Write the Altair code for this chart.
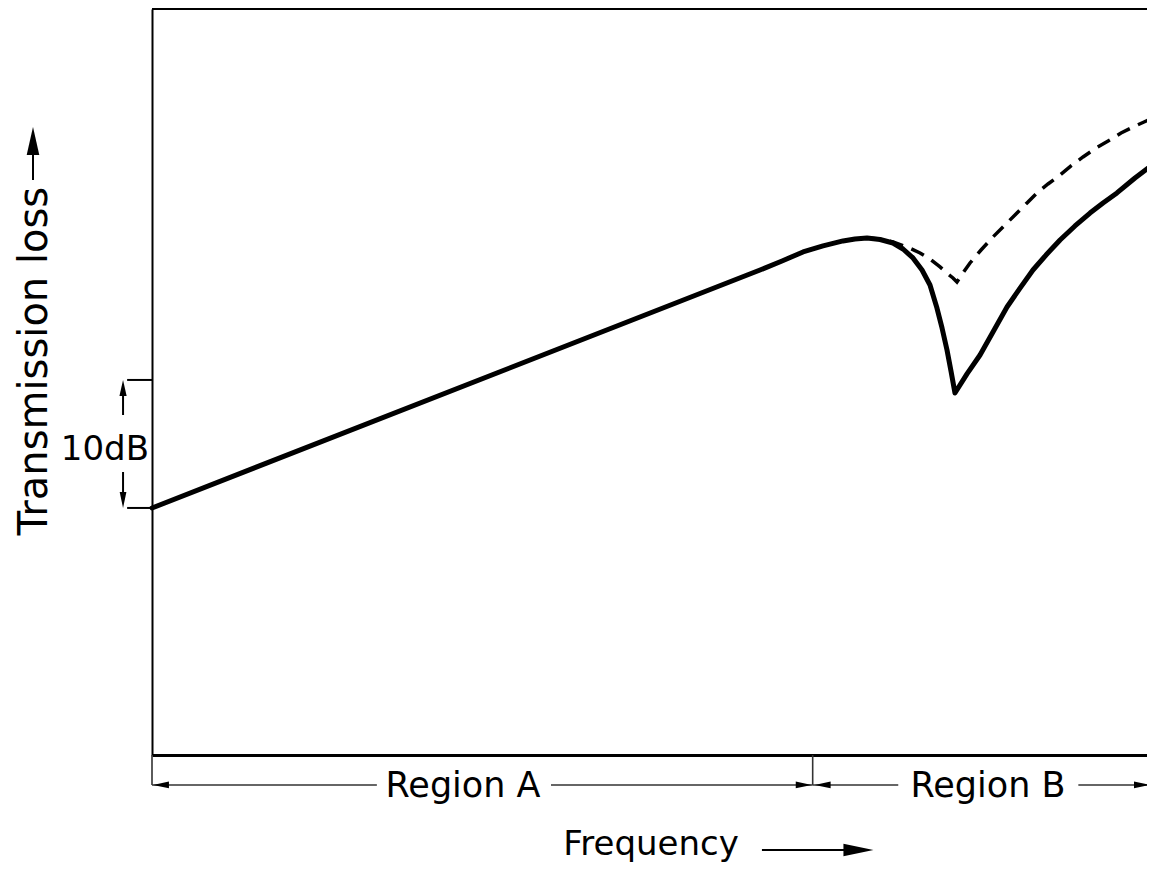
import altair as alt
import pandas as pd

# ---- data (frequency: arbitrary units 0-100, transmission loss: dB above plot bottom) ----
solid_freq = [0.0, 61.11, 63.32, 65.43, 67.44, 69.45, 70.65, 71.86, 73.17, 74.47, 75.48,
              76.48, 77.39, 78.19, 78.89, 79.40, 79.90, 80.30, 80.70, 81.91, 83.22,
              84.52, 85.93, 87.24, 88.54, 89.85, 91.26, 92.76, 94.27, 95.58, 96.98,
              98.79, 100.80]
solid_tl = [19.30, 37.89, 38.59, 39.30, 39.77, 40.16, 40.31, 40.39, 40.27, 40.00, 39.53,
            38.83, 37.89, 36.72, 34.92, 33.36, 31.64, 30.00, 28.28, 29.77, 31.25,
            33.05, 35.00, 36.48, 37.89, 39.06, 40.23, 41.33, 42.34, 43.13, 43.91,
            45.08, 46.25]

dashed_freq = [71.86, 73.17, 74.47, 75.88, 77.19, 78.19, 79.20, 80.00, 80.50, 80.90,
               81.51, 82.21, 83.32, 84.52, 85.73, 86.93, 87.94, 88.94, 90.05, 91.26,
               92.36, 93.57, 94.87, 96.28, 97.39, 98.59, 99.70, 100.80]
dashed_tl = [40.39, 40.31, 40.08, 39.69, 39.22, 38.75, 38.13, 37.58, 37.27, 36.95,
             37.66, 38.44, 39.45, 40.47, 41.41, 42.34, 43.13, 43.91, 44.61, 45.31,
             46.02, 46.72, 47.42, 48.05, 48.59, 49.06, 49.45, 49.84]

y_top = 58.28
region_y = -2.34
region_split = 66.4
freq_arrow_y = -7.42
db_low, db_high = 19.3, 29.3
ytitle_x = -11.96

region_labels = ["Region A", "Region B"]
region_label_x = [31.26, 84.02]

# segments (x, x2, y, y2)
seg_x = [0.0, 40.1, region_split, 93.1, 0.0, region_split]
seg_x2 = [22.6, region_split, 75.0, 100.6, 0.0, region_split]
seg_y = [region_y, region_y, region_y, region_y, 0.0, 0.0]
seg_y2 = [region_y, region_y, region_y, region_y, region_y, region_y]

thick_x = [61.3, ytitle_x, -2.5, -2.5, -2.91, -2.91]
thick_x2 = [71.2, ytitle_x, 0.0, 0.0, -2.91, -2.91]
thick_y = [freq_arrow_y, 44.92, db_high, db_low, 26.56, 22.11]
thick_y2 = [freq_arrow_y, 48.05, db_high, db_low, 28.52, 19.92]

RIGHT = "M1,0L-1,-0.42L-1,0.42Z"
LEFT = "M-1,0L1,-0.42L1,0.42Z"
UP = "M0,-1L-0.45,1L0.45,1Z"
DOWN = "M0,1L-0.42,-1L0.42,-1Z"
head_x = [0.9, 65.5, 67.4, 99.5, 71.0, ytitle_x, -2.91, -2.91]
head_y = [region_y, region_y, region_y, region_y, freq_arrow_y, 47.97, 28.67, 19.92]
head_shape = [LEFT, RIGHT, LEFT, RIGHT, RIGHT, UP, UP, DOWN]
head_size = [256, 256, 256, 256, 900, 784, 256, 256]

# ---- tables ----
solid = pd.DataFrame({"x": solid_freq, "y": solid_tl})
dashed = pd.DataFrame({"x": dashed_freq, "y": dashed_tl})
segs = pd.DataFrame({"x": seg_x, "x2": seg_x2, "y": seg_y, "y2": seg_y2})
thick = pd.DataFrame({"x": thick_x, "x2": thick_x2, "y": thick_y, "y2": thick_y2})
heads = pd.DataFrame({"x": head_x, "y": head_y, "shape": head_shape, "size": head_size})
regions = pd.DataFrame({"x": region_label_x, "y": [-3.28, -3.28], "t": region_labels})
freq_lbl = pd.DataFrame({"x": [50.15], "y": [-7.81], "t": ["Frequency"]})
ytitle = pd.DataFrame({"x": [-10.55], "y": [30.78], "t": ["Transmission loss"]})
db_lbl = pd.DataFrame({"x": [-0.3], "y": [23.05], "t": ["10dB"]})
top = pd.DataFrame({"y": [y_top]})

FONT = "DejaVu Sans"
INK = "#000000"

xax = alt.Axis(title=None, labels=False, ticks=False, grid=False, domain=True,
               domainColor=INK, domainWidth=3)
yax = alt.Axis(title=None, labels=False, ticks=False, grid=False, domain=True,
               domainColor=INK, domainWidth=2)
X = alt.X("x:Q", scale=alt.Scale(domain=[0, 100], nice=False, zero=False), axis=xax)
Y = alt.Y("y:Q", scale=alt.Scale(domain=[0, y_top], nice=False, zero=False), axis=yax)

solid_line = alt.Chart(solid).mark_line(color=INK, strokeWidth=5, strokeJoin="round",
                                        strokeCap="round").encode(x=X, y=Y)
dashed_line = alt.Chart(dashed).mark_line(color=INK, strokeWidth=3.5,
                                          strokeDash=[14, 9]).encode(x=X, y=Y)

top_rule = alt.Chart(top).mark_rule(color=INK, strokeWidth=2).encode(y=Y)

thin_rules = alt.Chart(segs).mark_rule(color="#333333", strokeWidth=1.6).encode(
    x=X, x2="x2:Q", y=Y, y2="y2:Q")
thick_rules = alt.Chart(thick).mark_rule(color=INK, strokeWidth=2).encode(
    x=X, x2="x2:Q", y=Y, y2="y2:Q")

arrowheads = alt.Chart(heads).mark_point(filled=True, color=INK, opacity=1, strokeWidth=0).encode(
    x=X, y=Y,
    shape=alt.Shape("shape:N", scale=None, legend=None),
    size=alt.Size("size:Q", scale=None, legend=None),
)

region_text = alt.Chart(regions).mark_text(font=FONT, fontSize=35, color=INK, align="center",
                                           baseline="alphabetic").encode(x=X, y=Y, text="t:N")
freq_text = alt.Chart(freq_lbl).mark_text(font=FONT, fontSize=34, color=INK, align="center",
                                          baseline="alphabetic").encode(x=X, y=Y, text="t:N")
ytitle_text = alt.Chart(ytitle).mark_text(font=FONT, fontSize=40, color=INK, align="center",
                                          baseline="alphabetic", angle=270).encode(x=X, y=Y, text="t:N")
db_text = alt.Chart(db_lbl).mark_text(font=FONT, fontSize=34, color=INK, align="right",
                                      baseline="alphabetic").encode(x=X, y=Y, text="t:N")

chart = alt.layer(
    top_rule, thin_rules, thick_rules, dashed_line, solid_line, arrowheads,
    region_text, freq_text, ytitle_text, db_text,
).properties(
    width=995, height=746,
    autosize=alt.AutoSizeParams(type="none"),
    padding={"left": 144, "top": 1, "right": 0, "bottom": 109},
).configure_view(stroke=None).configure(background="white")

chart.save("out.html", embed_options={"renderer": "svg", "actions": False})
